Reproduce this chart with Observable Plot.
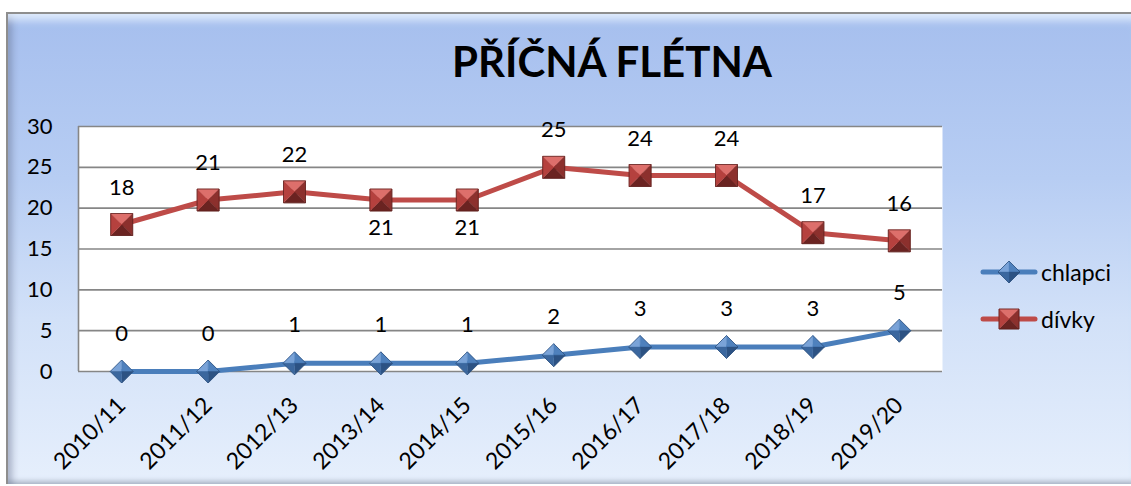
<!DOCTYPE html>
<html>
<head>
<meta charset="utf-8">
<script src="https://cdn.jsdelivr.net/npm/d3@7"></script>
<script src="https://cdn.jsdelivr.net/npm/@observablehq/plot@0.6"></script>
<style>
  html, body { margin: 0; padding: 0; background: #ffffff; }
  #page { position: relative; width: 1131px; height: 486px; overflow: hidden; font-family: Lato, "Open Sans", sans-serif; }
  #panel {
    position: absolute; left: 6px; top: 12px; width: 1125px; height: 472px; box-sizing: border-box;
    border-top: 2px solid #8e8e8e; border-left: 2px solid #8e8e8e;
    background: linear-gradient(to bottom, #a6bfee 0%, #b7cdf3 35%, #d2e1f8 65%, #e6effc 100%);
    box-shadow: inset 0 12px 8px -6px rgba(235,245,255,0.85), inset 9px 0 7px -5px rgba(90,100,130,0.45), inset 0 -7px 5px -4px rgba(130,140,160,0.55);
  }
  #title {
    position: absolute; left: 612px; top: 36px; transform: translateX(-50%);
    font-family: Lato, sans-serif; font-weight: 700; font-size: 42px; line-height: 50px; color: #000; white-space: nowrap;
  }
  #chart { position: absolute; left: 0; top: 0; }
  .leg { position: absolute; left: 980px; display: flex; align-items: center; font-family: Lato, sans-serif; font-size: 23px; color: #000; }
  .leg svg { margin-right: 3px; }
</style>
</head>
<body>
<div id="page">
  <div id="panel"></div>
  <div id="title">PŘÍČNÁ FLÉTNA</div>
  <div id="chart"></div>
</div>
<script>
// ---- data ----
const categories = ["2010/11","2011/12","2012/13","2013/14","2014/15","2015/16","2016/17","2017/18","2018/19","2019/20"];
const chlapci = [0, 0, 1, 1, 1, 2, 3, 3, 3, 5];
const divky   = [18, 21, 22, 21, 21, 25, 24, 24, 17, 16];
const yTicks  = [0, 5, 10, 15, 20, 25, 30];
const seriesNames = ["chlapci", "dívky"];
const divkyLabelsBelow = ["2013/14", "2014/15"];

// ---- styles ----
const lineColors = {"chlapci": "#4a7ebb", "dívky": "#be4b48"};
const squareFacets = [
  {pts: [[-1,-1],[1,-1],[0,0]], fill: "#dd6f6b"},
  {pts: [[1,-1],[1,1],[0,0]],   fill: "#8c302d"},
  {pts: [[1,1],[-1,1],[0,0]],   fill: "#6a2321"},
  {pts: [[-1,1],[-1,-1],[0,0]], fill: "#b5413e"}
];
const diamondFacets = [
  {pts: [[-1,0],[0,-1],[0,0]], fill: "#7aa3d8"},
  {pts: [[0,-1],[1,0],[0,0]],  fill: "#4f81bd"},
  {pts: [[1,0],[0,1],[0,0]],   fill: "#2c5283"},
  {pts: [[0,1],[-1,0],[0,0]],  fill: "#3b679e"}
];
const squareOutline  = [[-1,-1],[1,-1],[1,1],[-1,1]];
const diamondOutline = [[0,-1],[1,0],[0,1],[-1,0]];

function polySymbol(pts) {
  return {
    draw(ctx, size) {
      const r = Math.sqrt(size / Math.PI);
      ctx.moveTo(pts[0][0] * r, pts[0][1] * r);
      for (let k = 1; k < pts.length; k++) ctx.lineTo(pts[k][0] * r, pts[k][1] * r);
      ctx.closePath();
    }
  };
}

const rows = categories.flatMap((c, i) => [
  {i, cat: c, series: "chlapci", value: chlapci[i]},
  {i, cat: c, series: "dívky", value: divky[i]}
]);
const boys = rows.filter(d => d.series === "chlapci");
const girls = rows.filter(d => d.series === "dívky");

function markerMarks(data, facets, outline, r, edge) {
  return [
    ...facets.map(f => Plot.dot(data, {x: "i", y: "value", r, symbol: polySymbol(f.pts), fill: f.fill, stroke: f.fill, strokeWidth: 0.4})),
    Plot.dot(data, {x: "i", y: "value", r, symbol: polySymbol(outline), fill: "none", stroke: edge, strokeWidth: 0.8})
  ];
}

const chart = Plot.plot({
  width: 1131,
  height: 486,
  marginLeft: 78,
  marginRight: 189,
  marginTop: 126,
  marginBottom: 115,
  style: {background: "transparent", fontFamily: "Lato, sans-serif", fontSize: "22px", color: "#000", overflow: "visible"},
  x: {type: "linear", domain: [-0.5, categories.length - 0.5]},
  y: {domain: [0, 30]},
  marks: [
    Plot.frame({fill: "#ffffff", stroke: "none"}),
    Plot.ruleY(yTicks, {stroke: "#868686", strokeWidth: 1.6}),
    Plot.ruleX([-0.5], {stroke: "#868686", strokeWidth: 1.6}),
    Plot.axisY(yTicks, {tickSize: 0, tickPadding: 26, label: null, fontSize: 22}),
    Plot.axisX(categories.map((_, i) => i), {tickFormat: i => categories[i], tickRotate: -45, tickSize: 0, tickPadding: 30, label: null, fontSize: 23}),
    Plot.line(boys, {x: "i", y: "value", stroke: lineColors["chlapci"], strokeWidth: 5, strokeLinecap: "round"}),
    Plot.line(girls, {x: "i", y: "value", stroke: lineColors["dívky"], strokeWidth: 5, strokeLinecap: "round"}),
    ...markerMarks(boys, diamondFacets, diamondOutline, 11.5, "#2b4f7e"),
    ...markerMarks(girls, squareFacets, squareOutline, 11, "#5e1f1d"),
    Plot.text(boys, {x: "i", y: "value", text: d => String(d.value), dy: -38, fontSize: 22, fill: "#000"}),
    Plot.text(girls.filter(d => !divkyLabelsBelow.includes(d.cat)), {x: "i", y: "value", text: d => String(d.value), dy: -37, fontSize: 22, fill: "#000"}),
    Plot.text(girls.filter(d => divkyLabelsBelow.includes(d.cat)), {x: "i", y: "value", text: d => String(d.value), dy: 28, fontSize: 22, fill: "#000"})
  ]
});
document.getElementById("chart").appendChild(chart);

// ---- legend ----
const page = document.getElementById("page");
const legendSpecs = [
  {name: seriesNames[0], facets: diamondFacets, outline: diamondOutline, h: 11, edge: "#2b4f7e", top: 256},
  {name: seriesNames[1], facets: squareFacets, outline: squareOutline, h: 10, edge: "#5e1f1d", top: 303}
];
for (const s of legendSpecs) {
  const div = document.createElement("div");
  div.className = "leg";
  div.style.top = s.top + "px";
  const W = 58, H = 32, cx = W / 2, cy = H / 2;
  const poly = (pts, h) => pts.map(p => `${cx + p[0] * h},${cy + p[1] * h}`).join(" ");
  let svg = `<svg width="${W}" height="${H}" viewBox="0 0 ${W} ${H}">`;
  svg += `<line x1="3" y1="${cy}" x2="${W - 3}" y2="${cy}" stroke="${lineColors[s.name]}" stroke-width="5" stroke-linecap="round"/>`;
  for (const f of s.facets) svg += `<polygon points="${poly(f.pts, s.h)}" fill="${f.fill}" stroke="${f.fill}" stroke-width="0.4"/>`;
  svg += `<polygon points="${poly(s.outline, s.h)}" fill="none" stroke="${s.edge}" stroke-width="0.8"/>`;
  svg += `</svg>`;
  div.innerHTML = svg + `<span>${s.name}</span>`;
  page.appendChild(div);
}
</script>
</body>
</html>
